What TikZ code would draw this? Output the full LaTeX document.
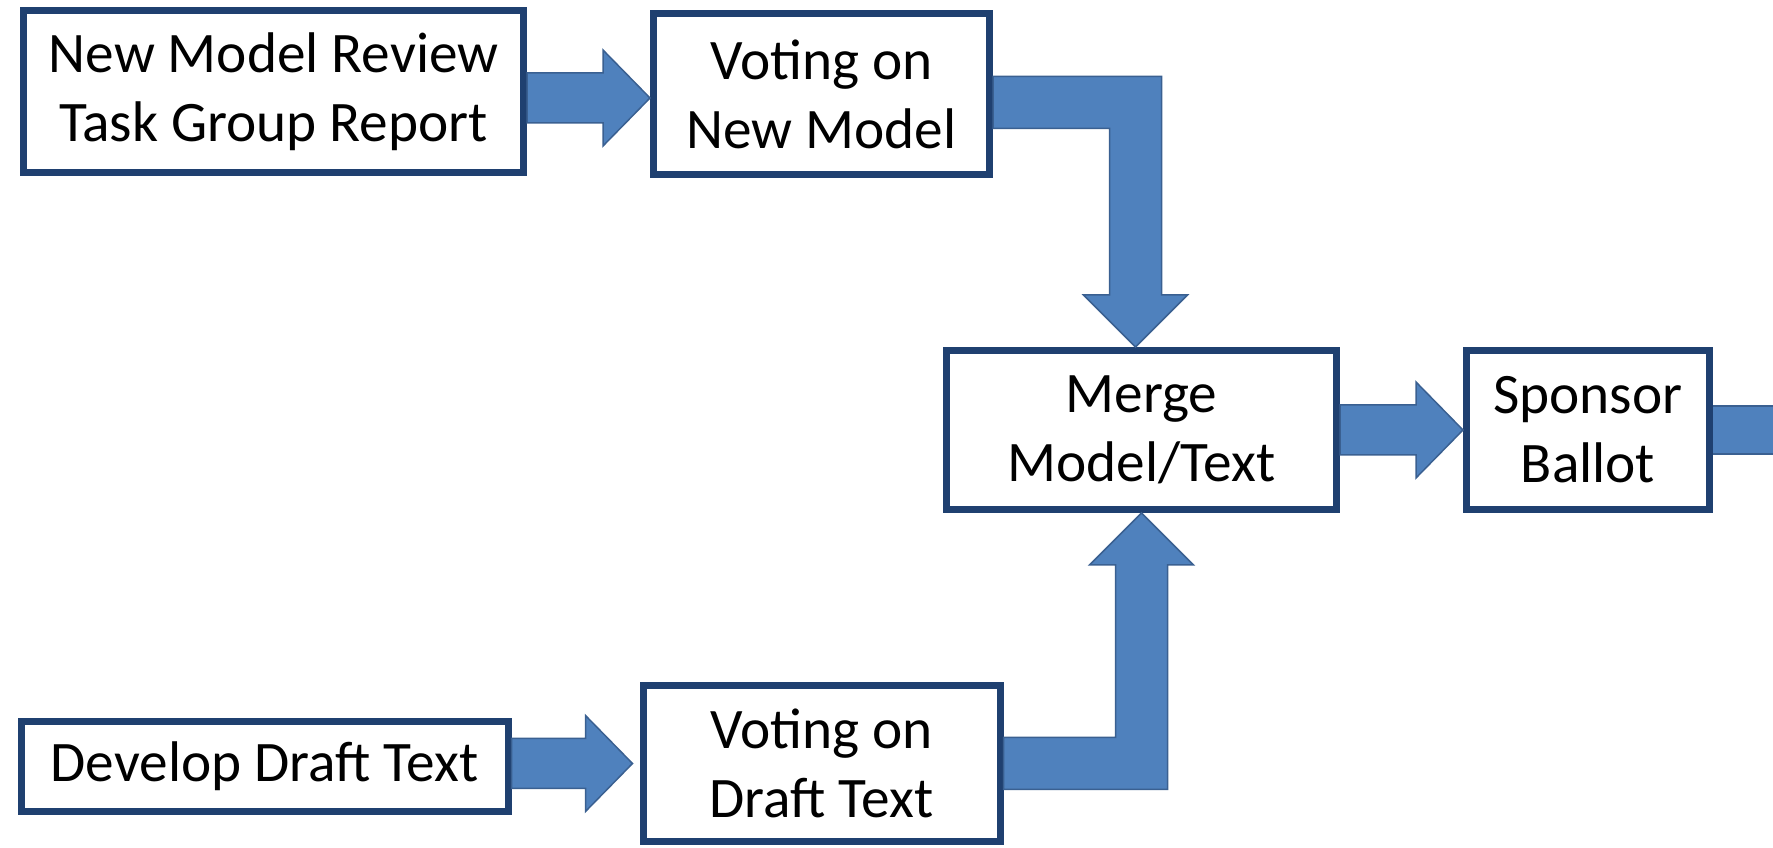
\documentclass[tikz,border=0pt]{standalone}
\usepackage{fontspec}
\setmainfont{Carlito}
\usetikzlibrary{positioning, calc}

\definecolor{boxedge}{RGB}{31,64,112}
\definecolor{arrowfill}{RGB}{79,129,189}
\definecolor{arrowedge}{RGB}{58,96,145}

\tikzset{
  box/.style={draw=boxedge, line width=0.7mm, fill=white, inner sep=0pt,
    align=center, font=\fontsize{16.3pt}{19.6pt}\selectfont},
  blockarrow/.style={fill=arrowfill, draw=arrowedge, line width=0.15mm,
    line join=miter}
}

% straight block arrow, from #1 to the tip #2
\newcommand{\rightblock}[2]{%
  \filldraw[blockarrow] let \p1=(#1), \p2=(#2) in
    (\x1,\y2+2.5mm) -- (\x2-4.7mm,\y2+2.5mm) -- (\x2-4.7mm,\y2+4.8mm)
    -- (\x2,\y2) -- (\x2-4.7mm,\y2-4.8mm) -- (\x2-4.7mm,\y2-2.5mm)
    -- (\x1,\y2-2.5mm) -- cycle;}
% bent block arrow, right then down
\newcommand{\downblock}[2]{%
  \filldraw[blockarrow] let \p1=(#1), \p2=(#2) in
    (\x1,\y1+2.6mm) -- (\x2+2.6mm,\y1+2.6mm) -- (\x2+2.6mm,\y2+5.2mm)
    -- (\x2+5.2mm,\y2+5.2mm) -- (\x2,\y2) -- (\x2-5.2mm,\y2+5.2mm)
    -- (\x2-2.6mm,\y2+5.2mm) -- (\x2-2.6mm,\y1-2.6mm) -- (\x1,\y1-2.6mm) -- cycle;}
% bent block arrow, right then up
\newcommand{\upblock}[2]{%
  \filldraw[blockarrow] let \p1=(#1), \p2=(#2) in
    (\x1,\y1-2.6mm) -- (\x2+2.6mm,\y1-2.6mm) -- (\x2+2.6mm,\y2-5.2mm)
    -- (\x2+5.2mm,\y2-5.2mm) -- (\x2,\y2) -- (\x2-5.2mm,\y2-5.2mm)
    -- (\x2-2.6mm,\y2-5.2mm) -- (\x2-2.6mm,\y1+2.6mm) -- (\x1,\y1+2.6mm) -- cycle;}

\begin{document}
\begin{tikzpicture}[x=0.1mm, y=-0.1mm, on grid]
  \useasboundingbox (0,0) rectangle (1773,848);

  \node[box, minimum width=50mm, minimum height=16.2mm] (review) at (273.5,91.5)
    {New Model Review\\Task Group Report};
  \node[box, minimum width=33.6mm, minimum height=16.1mm] (votemodel)
    [right=54.8mm of review, yshift=-0.25mm] {Voting on\\New Model};
  \node[box, minimum width=39mm, minimum height=15.9mm] (merge)
    [below right=33.6mm and 32mm of votemodel] {Merge\\Model/Text};
  \node[box, minimum width=24.3mm, minimum height=15.9mm] (sponsor)
    [right=44.65mm of merge] {Sponsor\\Ballot};
  \node[box, minimum width=35.7mm, minimum height=15.6mm] (votedraft)
    [below=66.95mm of votemodel] {Voting on\\Draft Text};
  \node[box, minimum width=48.7mm, minimum height=9mm] (develop)
    [left=55.7mm of votedraft, yshift=-0.3mm] {Develop Draft Text};
  \coordinate (exit) at (1790,425);

  \rightblock{review.east}{[yshift=-0.4mm]votemodel.west}
  \downblock{[yshift=-0.85mm]votemodel.east}{[xshift=-0.6mm]merge.north}
  \upblock{votedraft.east}{merge.south}
  \rightblock{develop.east}{[xshift=-0.7mm]votedraft.west}
  \rightblock{merge.east}{sponsor.west}
  \fill[arrowfill] let \p1=(sponsor.east), \p2=(exit) in
    (\x1,\y1+2.4mm) rectangle (\x2,\y1-2.4mm);
  \draw[arrowedge, line width=0.15mm] let \p1=(sponsor.east), \p2=(exit) in
    (\x1,\y1+2.4mm) -- (\x2,\y1+2.4mm) (\x1,\y1-2.4mm) -- (\x2,\y1-2.4mm);
\end{tikzpicture}
\end{document}
